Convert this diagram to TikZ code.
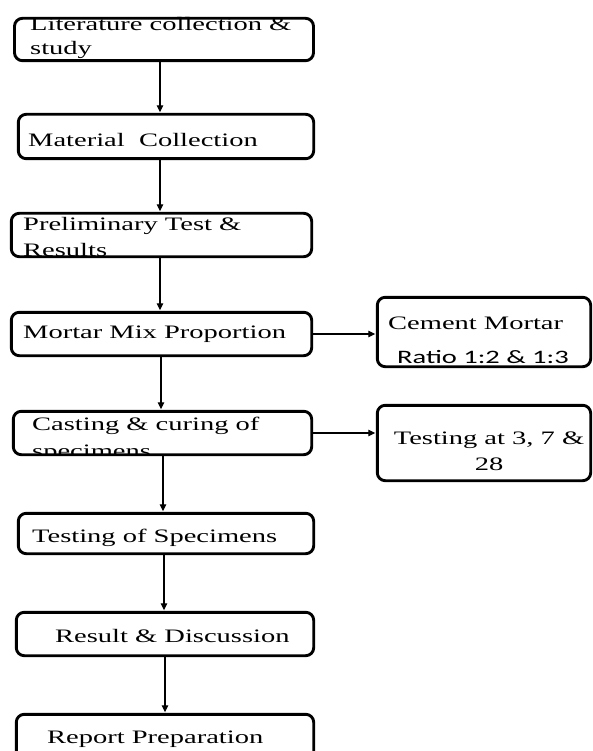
\documentclass[tikz,border=0pt]{standalone}
\usepackage{fontspec}
\setmainfont{Liberation Serif}
\newfontfamily\calfont{Carlito}
\usetikzlibrary{arrows.meta}
\newcommand\sx[1]{\scalebox{1.5}[1]{#1}}
\begin{document}
\begin{tikzpicture}[x=1pt,y=-1pt,
  box/.style={draw,line width=2.9pt,rounded corners=8pt,inner sep=0pt,outer sep=0pt},
  txt/.style={inner sep=0pt,anchor=base west,font=\fontsize{19}{22}\selectfont},
  ctxt/.style={inner sep=0pt,anchor=base,font=\fontsize{19}{22}\selectfont},
  stxt/.style={inner sep=0pt,anchor=base west,font=\calfont\fontsize{19}{22}\selectfont},
  arr/.style={line width=1.1pt,-{Triangle[length=7pt,width=6.5pt]},shorten >=2pt}]
\useasboundingbox (0,0) rectangle (592,751);
\clip (0,0) rectangle (592,751);

% boxes (drawn empty; texts placed separately)
\node[box,minimum width=299pt,minimum height=42.4pt] (b1) at (164,39.5) {};
\node[box,minimum width=295.4pt,minimum height=44.4pt] (b2) at (166,136.5) {};
\node[box,minimum width=300.4pt,minimum height=43.4pt] (b3) at (161.5,235) {};
\node[box,minimum width=300.4pt,minimum height=43.4pt] (b4) at (161.5,334) {};
\node[box,minimum width=298.4pt,minimum height=43.4pt] (b5) at (162.5,433) {};
\node[box,minimum width=295.4pt,minimum height=40.4pt] (b6) at (166,533.5) {};
\node[box,minimum width=297.4pt,minimum height=43.4pt] (b7) at (165,634) {};
\node[box,minimum width=297.4pt,minimum height=59.4pt] (b8) at (165,744) {};
\node[box,minimum width=213.4pt,minimum height=69.4pt] (c1) at (484,332) {};
\node[box,minimum width=213.4pt,minimum height=75.4pt] (c2) at (484,443) {};

% texts
\node[txt] (t1a) at (30,31) {\sx{Literature collection \&}};
\node[txt] (t1b) at (30,55) {\sx{study}};
\node[txt] (t2) at (28,147) {\sx{Material\ \ Collection}};
\node[txt] (t3a) at (23,230) {\sx{Preliminary Test \&}};
\begin{scope}
  \clip (b3.south west) rectangle (b3.north east);
  \node[txt] (t3b) at (23,256) {\sx{Results}};
\end{scope}
\node[txt] (t4) at (23,338) {\sx{Mortar Mix Proportion}};
\node[txt] (t5a) at (32,430) {\sx{Casting \& curing of}};
\begin{scope}
  \clip (b5.south west) rectangle (b5.north east);
  \node[txt] (t5b) at (32,457) {\sx{specimens}};
\end{scope}
\node[txt] (t6) at (32,542) {\sx{Testing of Specimens}};
\node[txt] (t7) at (55,642) {\sx{Result \& Discussion}};
\node[txt] (t8) at (47,743) {\sx{Report Preparation}};
\node[txt] (c1a) at (388,329) {\sx{Cement Mortar}};
\node[stxt] (c1b) at (397,363) {\sx{Ratio 1:2 \& 1:3}};
\node[ctxt] (c2a) at (489,444) {\sx{Testing at 3, 7 \&}};
\node[ctxt] (c2b) at (489,470) {\sx{28}};

% connectors
\draw[arr] ([xshift=-4pt]b1.south) -- ([xshift=-6pt]b2.north);
\draw[arr] ([xshift=-6pt]b2.south) -- ([xshift=-1.5pt]b3.north);
\draw[arr] ([xshift=-1.5pt]b3.south) -- ([xshift=-1.5pt]b4.north);
\draw[arr] ([xshift=-0.5pt]b4.south) -- ([xshift=-1.5pt]b5.north);
\draw[arr] ([xshift=0.5pt]b5.south) -- ([xshift=-3pt]b6.north);
\draw[arr] ([xshift=-2pt]b6.south) -- ([xshift=-1pt]b7.north);
\draw[arr] (b7.south) -- (b8.north);
\draw[arr] (b4.east) -- (b4.east -| c1.west);
\draw[arr] (b5.east) -- (b5.east -| c2.west);
\end{tikzpicture}
\end{document}
